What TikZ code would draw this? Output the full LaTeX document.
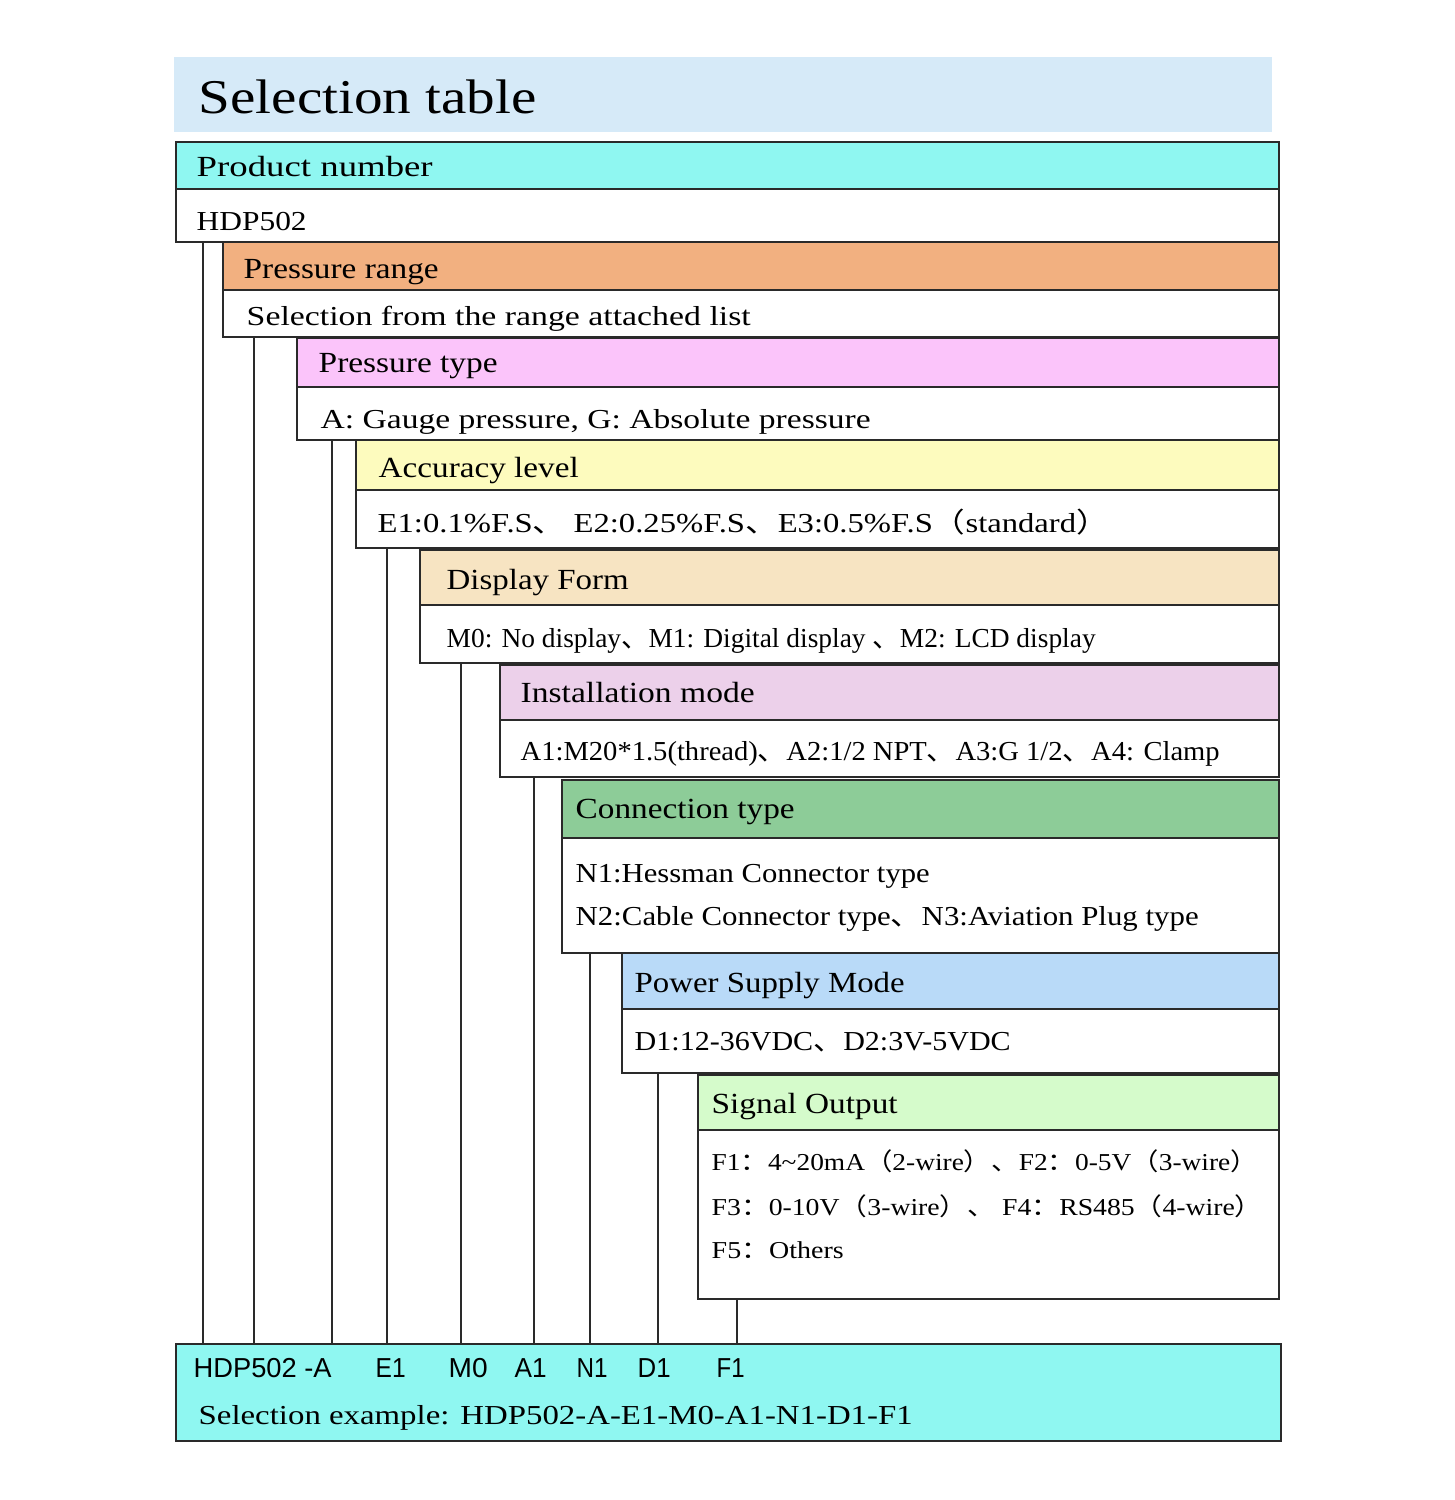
\documentclass[tikz,border=0pt]{standalone}
\usepackage{fontspec}
\setmainfont{Liberation Serif}
\newfontfamily\cjk{Noto Sans CJK SC}
\newfontfamily\armfont{Liberation Sans}
\usetikzlibrary{fit}

\definecolor{bandc}{HTML}{D6EAF8}
\definecolor{cyanc}{HTML}{8FF7F1}
\definecolor{rangec}{HTML}{F2B080}
\definecolor{typec}{HTML}{FBC4FA}
\definecolor{accc}{HTML}{FDFBBE}
\definecolor{dispc}{HTML}{F7E4C2}
\definecolor{instc}{HTML}{ECD0EA}
\definecolor{connc}{HTML}{8DCC98}
\definecolor{powc}{HTML}{B9DAF8}
\definecolor{sigc}{HTML}{D5FBCB}
\definecolor{linec}{HTML}{2A2A2A}

% one pixel of the sheet
\newlength\pxu \setlength\pxu{0.01cm}
\newcommand\fw[2]{\resizebox{#1\pxu}{\height}{#2}}
\newcommand\dun{{\cjk 、}}
\newcommand\lpar{{\cjk （}}
\newcommand\rpar{{\cjk ）}}
\newcommand\fcol{{\cjk ：}}

\tikzset{
  cell/.style={draw=linec, line width=0.6pt, inner sep=0pt, rectangle},
  hdtxt/.style={anchor=base west, inner sep=0pt, font=\fontsize{8.3}{10}\selectfont},
  bdtxt/.style={anchor=base west, inner sep=0pt, font=\fontsize{7.8}{10}\selectfont},
  smtxt/.style={anchor=base west, inner sep=0pt, font=\fontsize{6.9}{9}\selectfont},
  sftxt/.style={anchor=base west, inner sep=0pt, font=\armfont\fontsize{7.8}{9}\selectfont},
  vline/.style={draw=linec, line width=0.6pt}
}

\begin{document}
\begin{tikzpicture}[x=0.01cm, y=-0.01cm]
\useasboundingbox (0,0) rectangle (1455,1500);

% title band
\node[fill=bandc, inner sep=0pt, fit={(174,57) (1272,132)}] (band) {};
\node[anchor=base west, inner sep=0pt, font=\fontsize{13.8}{16}\selectfont] (ttl) at (198,114) {\fw{338}{Selection table}};

% header and body cells
\node[cell, fill=cyanc, fit={(176,142) (1279,189)}] (hd0) {};
\node[cell, fill=white, fit={(176,189) (1279,242)}] (bd0) {};
\node[cell, fill=rangec, fit={(223,242) (1279,290)}] (hd1) {};
\node[cell, fill=white, fit={(223,290) (1279,337)}] (bd1) {};
\node[cell, fill=typec, fit={(297,338) (1279,387)}] (hd2) {};
\node[cell, fill=white, fit={(297,387) (1279,440)}] (bd2) {};
\node[cell, fill=accc, fit={(356,440) (1279,490)}] (hd3) {};
\node[cell, fill=white, fit={(356,490) (1279,548)}] (bd3) {};
\node[cell, fill=dispc, fit={(420,550) (1279,605)}] (hd4) {};
\node[cell, fill=white, fit={(420,605) (1279,663)}] (bd4) {};
\node[cell, fill=instc, fit={(500,665) (1279,720)}] (hd5) {};
\node[cell, fill=white, fit={(500,720) (1279,777)}] (bd5) {};
\node[cell, fill=connc, fit={(562,780) (1279,838)}] (hd6) {};
\node[cell, fill=white, fit={(562,838) (1279,953)}] (bd6) {};
\node[cell, fill=powc, fit={(622,953) (1279,1009)}] (hd7) {};
\node[cell, fill=white, fit={(622,1009) (1279,1073)}] (bd7) {};
\node[cell, fill=sigc, fit={(698,1075) (1279,1130)}] (hd8) {};
\node[cell, fill=white, fit={(698,1130) (1279,1299)}] (bd8) {};
\node[cell, fill=cyanc, fit={(176,1344) (1281,1441)}] (bot) {};

% texts
\node[hdtxt] (t0) at (196,177) {\fw{236}{Product number}};
\node[bdtxt] (s0) at (196,230) {\fw{110}{HDP502}};
\node[hdtxt] (t1) at (243,279) {\fw{195}{Pressure range}};
\node[bdtxt] (s1) at (246,325) {\fw{504}{Selection from the range attached list}};
\node[hdtxt] (t2) at (318,373) {\fw{179}{Pressure type}};
\node[bdtxt] (s2) at (320,428) {\fw{550}{A: Gauge pressure, G: Absolute pressure}};
\node[hdtxt] (t3) at (378,477) {\fw{200}{Accuracy level}};
\node[bdtxt] (s3) at (377,532) {\fw{731}{E1:0.1\%F.S\dun\ E2:0.25\%F.S\dun E3:0.5\%F.S\lpar standard\rpar}};
\node[hdtxt] (t4) at (446,589) {\fw{182}{Display Form}};
\node[bdtxt] (s4) at (446,647) {\fw{649}{M0: No display\dun M1: Digital display \dun M2: LCD display}};
\node[hdtxt] (t5) at (520,702) {\fw{234}{Installation mode}};
\node[bdtxt] (s5) at (520,760) {\fw{699}{A1:M20*1.5(thread)\dun A2:1/2 NPT\dun A3:G 1/2\dun A4: Clamp}};
\node[hdtxt] (t6) at (575,818) {\fw{219}{Connection type}};
\node[bdtxt] (s6) at (575,882) {\fw{354}{N1:Hessman Connector type}};
\node[bdtxt] (s6b) at (575,925) {\fw{623}{N2:Cable Connector type\dun N3:Aviation Plug type}};
\node[hdtxt] (t7) at (634,992) {\fw{270}{Power Supply Mode}};
\node[bdtxt] (s7) at (634,1050) {\fw{376}{D1:12-36VDC\dun D2:3V-5VDC}};
\node[hdtxt] (t8) at (711,1113) {\fw{186}{Signal Output}};
\node[smtxt] (s8) at (711,1170) {\fw{546}{F1\fcol 4\textasciitilde 20mA\lpar 2-wire\rpar\dun F2\fcol 0-5V\lpar 3-wire\rpar}};
\node[smtxt] (s8b) at (711,1215) {\fw{551}{F3\fcol 0-10V\lpar 3-wire\rpar\dun\ F4\fcol RS485\lpar 4-wire\rpar}};
\node[smtxt] (s8c) at (711,1258) {\fw{132}{F5\fcol Others}};

% example codes
\node[sftxt] (kA) at (193,1377) {\fw{138}{HDP502 -A}};
\node[sftxt] (kE) at (375,1377) {\fw{30}{E1}};
\node[sftxt] (kM) at (448,1377) {\fw{39}{M0}};
\node[sftxt] (kI) at (514,1377) {\fw{32}{A1}};
\node[sftxt] (kN) at (576,1377) {\fw{31}{N1}};
\node[sftxt] (kD) at (637,1377) {\fw{33}{D1}};
\node[sftxt] (kF) at (716,1377) {\fw{28}{F1}};
\node[bdtxt] (ex) at (198,1424) {\fw{714}{Selection example: HDP502-A-E1-M0-A1-N1-D1-F1}};

% drop lines
\coordinate (c0) at (203,0);
\coordinate (c1) at (254,0);
\coordinate (c2) at (332,0);
\coordinate (c3) at (387,0);
\coordinate (c4) at (461,0);
\coordinate (c5) at (534,0);
\coordinate (c6) at (590,0);
\coordinate (c7) at (658,0);
\coordinate (c8) at (737,0);
\draw[vline] (bd0.south -| c0) -- (bot.north -| c0);
\draw[vline] (bd1.south -| c1) -- (bot.north -| c1);
\draw[vline] (bd2.south -| c2) -- (bot.north -| c2);
\draw[vline] (bd3.south -| c3) -- (bot.north -| c3);
\draw[vline] (bd4.south -| c4) -- (bot.north -| c4);
\draw[vline] (bd5.south -| c5) -- (bot.north -| c5);
\draw[vline] (bd6.south -| c6) -- (bot.north -| c6);
\draw[vline] (bd7.south -| c7) -- (bot.north -| c7);
\draw[vline] (bd8.south -| c8) -- (bot.north -| c8);
\end{tikzpicture}
\end{document}
